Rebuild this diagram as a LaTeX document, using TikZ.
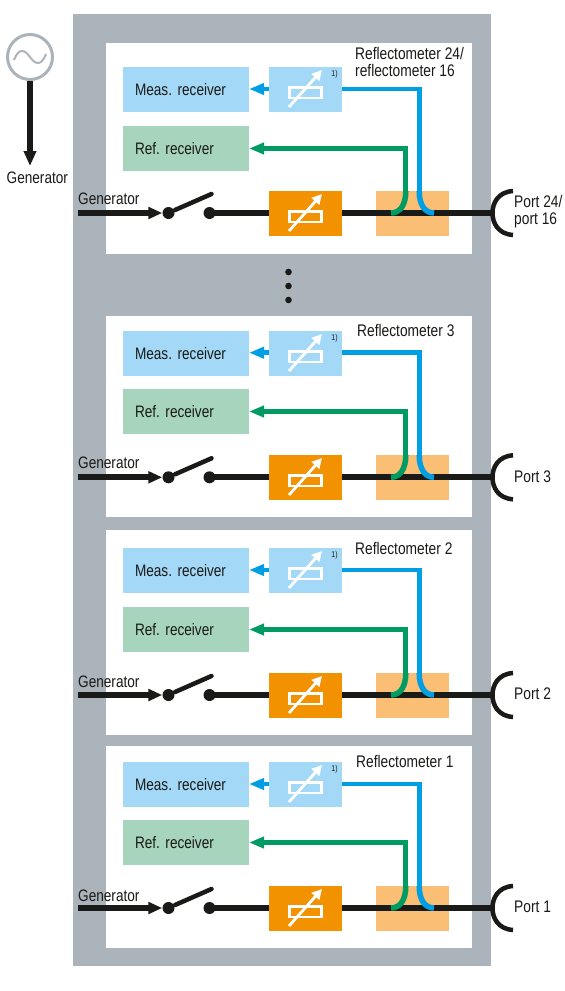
\documentclass[tikz,border=0pt]{standalone}
\usepackage{fontspec}
\setmainfont[FakeStretch=0.82]{Liberation Sans}
\usetikzlibrary{arrows.meta,calc}
\definecolor{cgrey}{HTML}{ABB4BA}
\definecolor{lblue}{HTML}{A3D9F7}
\definecolor{lgreen}{HTML}{A7D4BC}
\definecolor{orng}{HTML}{F39200}
\definecolor{lorng}{HTML}{FABF75}
\definecolor{cblue}{HTML}{009FE3}
\definecolor{cgreen}{HTML}{009B62}
\definecolor{blk}{HTML}{1A1A18}
\tikzset{
 x=1pt,y=-1pt,
 box/.style={minimum height=45pt,inner sep=0pt,outer sep=0pt,anchor=north west},
 recv/.style={box,minimum width=126pt,text width=102pt,align=left,text=blk,font=\fontsize{16.6}{17}\selectfont\frenchspacing},
 atten/.style={box,minimum width=73pt},
 lab/.style={inner sep=0pt,anchor=west,text=blk,font=\fontsize{16.8}{17}\selectfont,align=left},
 genlab/.style={lab,font=\fontsize{16.6}{17}\selectfont},
 blkline/.style={draw=blk,line width=6pt},
 bluel/.style={draw=cblue,line width=4.8pt},
 greenl/.style={draw=cgreen,line width=4.8pt},
 tip/.style={-{Triangle[length=15pt,width=11pt]}},
 contact/.style={circle,fill=blk,minimum size=12pt,inner sep=0pt},
 sym/.style={draw=white,line width=2.8pt,fill=none},
}
% #1 name, #2 meas top, #3 ref top, #4 orange top, #5 through-line y, #6 port label, #7 blue y
\newcommand{\reflpanel}[7]{
 \node[recv,fill=lblue] (meas#1) at (123,#2) {Meas. receiver};
 \node[atten,fill=lblue] (mat#1) at (269,#2) {};
 \node[recv,fill=lgreen] (ref#1) at (123,#3) {Ref. receiver};
 \node[atten,fill=orng] (sat#1) at (269,#4) {};
 \node[atten,fill=lorng] (cpl#1) at (376,#4) {};
 \node[inner sep=0pt,font=\fontsize{8.5}{9}\selectfont,text=blk] (note#1) at (334.5,#2+7.5) {1)};
 % attenuator symbols
 \foreach \t/\c in {#2/mat#1,#4/sat#1}{
  \draw[sym] (289.5,\t+20.5) rectangle (321.5,\t+31);
  \draw[sym,-{Triangle[length=10pt,width=10pt]}] (289,\t+40) -- (322,\t+3);
 }
 % switch
 \coordinate (gen#1) at (78,#5);
 \node[contact] (c1#1) at (168.5,#5) {};
 \node[contact] (c2#1) at (209.5,#5) {};
 \coordinate (arma#1) at (175,#5-3);
 \coordinate (armb#1) at (211.5,#5-19);
 \coordinate (port#1) at (491,#5);
 \draw[blkline,-{Triangle[length=14pt,width=11.5pt]}] (gen#1) -- (c1#1.west);
 \draw[draw=blk,line width=4.5pt,line cap=round] (arma#1) -- (armb#1);
 \draw[blkline] (c2#1.center) -- (sat#1.west |- c2#1.center);
 \draw[blkline] (sat#1.east |- c2#1.center) -- (port#1);
 % port
 \draw[draw=blk,line width=4.5pt] (513,#5-22) .. controls (498,#5-21) and (492.5,#5-10) .. (492.5,#5)
   .. controls (492.5,#5+10) and (498,#5+21) .. (513,#5+22);
 % couplers
 \coordinate (gc#1) at (405.8,#4);
 \coordinate (bc#1) at (419.2,#4);
 \draw[greenl,tip] (gc#1) -- (405.8,#3+22.5) -- (ref#1.east);
 \draw[bluel] (bc#1) -- (419.2,#7) -- (mat#1.east |- 0,#7);
 \draw[bluel,tip] (mat#1.west |- 0,#7) -- (meas#1.east |- 0,#7);
 \draw[greenl,line width=5.5pt] (gc#1) .. controls (405.8,#4+14) and (400,#5) .. (391,#5);
 \draw[bluel,line width=5.5pt] (bc#1) .. controls (419.2,#4+14) and (425,#5) .. (434,#5);
 \node[lab] (plab#1) at (514,#5-1) {#6};
}
\begin{document}
\begin{tikzpicture}
\useasboundingbox (0,0) rectangle (565,991);
\fill[white] (0,0) rectangle (565,991);
\node[fill=cgrey,inner sep=0pt,minimum width=418pt,minimum height=952pt,anchor=north west] (rack) at (73,14) {};
\foreach \nm/\a/\b in {p24/43/254,p3/316/517,p2/530/735,p1/746/948}
  \fill[white] (106,\a) rectangle (472,\b);

\reflpanel{a}{67}{126}{191}{213}{Port 24/\\port 16}{89}
\reflpanel{b}{331}{389}{455}{477.3}{Port 3}{352.7}
\reflpanel{c}{548}{607}{673}{695}{Port 2}{570}
\reflpanel{d}{762}{820}{886}{908}{Port 1}{784}

\node[lab,anchor=north west] at (355,47) {Reflectometer 24/\\reflectometer 16};
\node[lab] at (357,330) {Reflectometer 3};
\node[lab] at (355,548) {Reflectometer 2};
\node[lab] at (356,761.5) {Reflectometer 1};

\foreach \n/\y in {a/199,b/462.5,c/682,d/896}
  \node[genlab] at (78,\y) {Generator};

% generator source
\node[circle,draw=cgrey,line width=3pt,minimum size=45pt,inner sep=0pt] (src) at (30,57) {};
\draw[cgrey,line width=2pt] (14,60) .. controls (19,47) and (25,50) .. (30,57) .. controls (35,64) and (41,67) .. (46,54);
\coordinate (srcend) at (30,166);
\draw[blkline,-{Triangle[length=15pt,width=12pt]}] (src.south) -- (srcend);
\node[genlab] (srclab) at (6.5,177.5) {Generator};

% continuation dots
\foreach \y in {272,286,300}
  \fill[blk] (288.5,\y) circle (3.3);
\end{tikzpicture}
\end{document}
